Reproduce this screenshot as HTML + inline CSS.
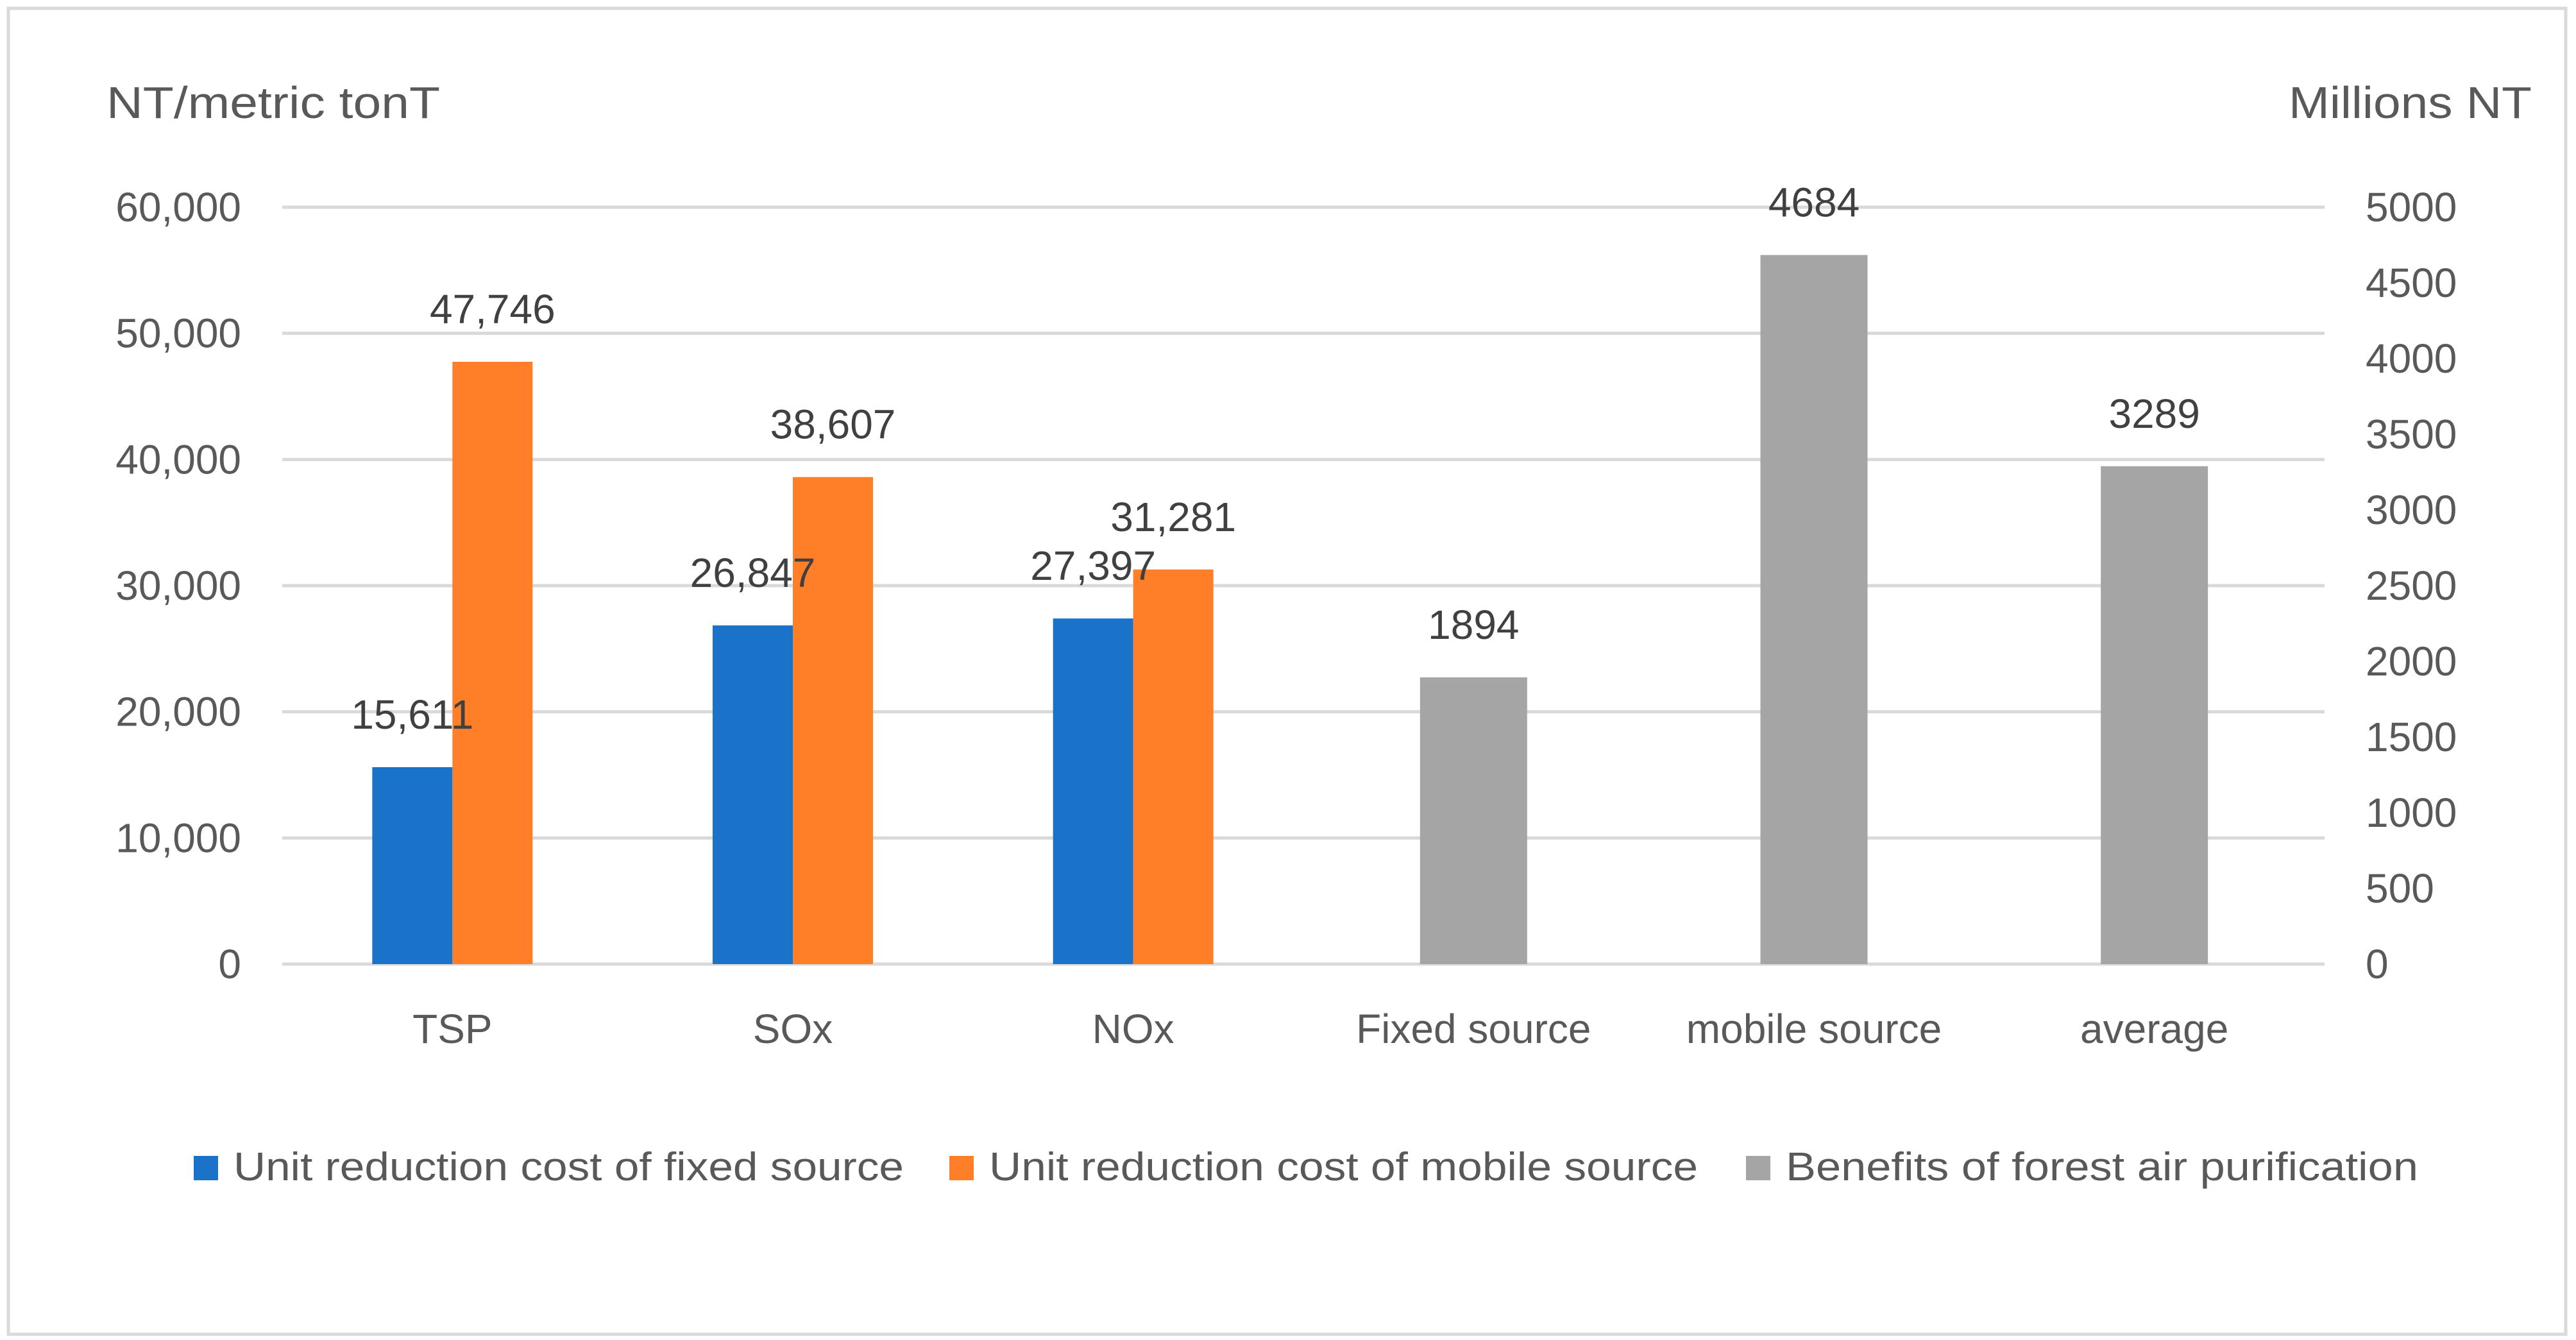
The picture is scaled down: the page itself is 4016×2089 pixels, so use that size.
<!DOCTYPE html>
<html><head><meta charset="utf-8"><style>
html,body{margin:0;padding:0;background:#fff;}
svg{display:block;font-family:"Liberation Sans",sans-serif;}
</style></head><body>
<svg id="chart" width="4016" height="2089" viewBox="0 0 4016 2089" xmlns="http://www.w3.org/2000/svg">
<rect x="13" y="13" width="3987" height="2067" fill="#fff" stroke="#d9d9d9" stroke-width="5"/>
<text x="166" y="184" font-size="70" fill="#595959" textLength="520" lengthAdjust="spacingAndGlyphs">NT/metric tonT</text>
<text x="3568" y="184" font-size="70" fill="#595959" textLength="379" lengthAdjust="spacingAndGlyphs">Millions NT</text>
<g id="grid"></g><g id="bars"></g><g id="labels"></g>
<g>
<rect x="302" y="1802" width="38" height="38" fill="#1a73c9"/>
<text x="364" y="1840" font-size="62" fill="#595959" textLength="1045" lengthAdjust="spacingAndGlyphs">Unit reduction cost of fixed source</text>
<rect x="1480" y="1802" width="38" height="38" fill="#fe7f27"/>
<text x="1542" y="1840" font-size="62" fill="#595959" textLength="1105" lengthAdjust="spacingAndGlyphs">Unit reduction cost of mobile source</text>
<rect x="2722" y="1802" width="38" height="38" fill="#a5a5a5"/>
<text x="2784" y="1840" font-size="62" fill="#595959" textLength="986" lengthAdjust="spacingAndGlyphs">Benefits of forest air purification</text>
</g>
</svg>
<script>
const categories = ["TSP","SOx","NOx","Fixed source","mobile source","average"];
const fixedCost = [15611,26847,27397,null,null,null];
const mobileCost = [47746,38607,31281,null,null,null];
const benefits = [null,null,null,1894,4684,3289];
const leftTicks = [0,10000,20000,30000,40000,50000,60000];
const rightTicks = [0,500,1000,1500,2000,2500,3000,3500,4000,4500,5000];

const NS="http://www.w3.org/2000/svg";
const X0=440,X1=3624,Y0=1503,Y1=323;
const bandW=(X1-X0)/categories.length;
const yL=v=>Y0-(v/60000)*(Y0-Y1);
const yR=v=>Y0-(v/5000)*(Y0-Y1);
const xC=i=>X0+bandW*(i+0.5);
function mk(tag,attrs,parent,txt){const e=document.createElementNS(NS,tag);for(const k in attrs)e.setAttribute(k,attrs[k]);if(txt!==undefined)e.textContent=txt;parent.appendChild(e);return e;}
const grid=document.getElementById('grid'),bars=document.getElementById('bars'),labels=document.getElementById('labels');
const fmt=v=>v.toLocaleString('en-US');
leftTicks.forEach(t=>{
  const l=mk('line',{x1:X0,x2:X1,y1:yL(t),y2:yL(t),stroke:'#d9d9d9','stroke-width':5},grid);
  
  
  const tx=mk('text',{x:376,y:yL(t)+22,'font-size':64,fill:'#595959','text-anchor':'end'},labels,fmt(t));
  
  
});
rightTicks.forEach(t=>{
  const tx=mk('text',{x:3688,y:yR(t)+22,'font-size':64,fill:'#595959'},labels,String(t));
  
  
});
categories.forEach((c,i)=>{
  const tx=mk('text',{x:xC(i),y:1626,'font-size':64,fill:'#595959','text-anchor':'middle'},labels,c);
  
  
});
const bw=125,gw=167;
function bar(x,w,y,color,val,name){
  const r=mk('rect',{x:x,y:y,width:w,height:Y0-y,fill:color},bars);
  
  
  const t=mk('text',{x:x+w/2,y:y-60,'font-size':64,fill:'#404040','text-anchor':'middle'},labels,val);
  
  
}
categories.forEach((c,i)=>{
  if(fixedCost[i]!=null) bar(xC(i)-bw,bw,yL(fixedCost[i]),'#1a73c9',fmt(fixedCost[i]),'bar-fixed-cost');
  if(mobileCost[i]!=null) bar(xC(i),bw,yL(mobileCost[i]),'#fe7f27',fmt(mobileCost[i]),'bar-mobile-cost');
  if(benefits[i]!=null) bar(xC(i)-gw/2,gw,yR(benefits[i]),'#a5a5a5',String(benefits[i]),'bar-benefits');
});
</script>
</body></html>
